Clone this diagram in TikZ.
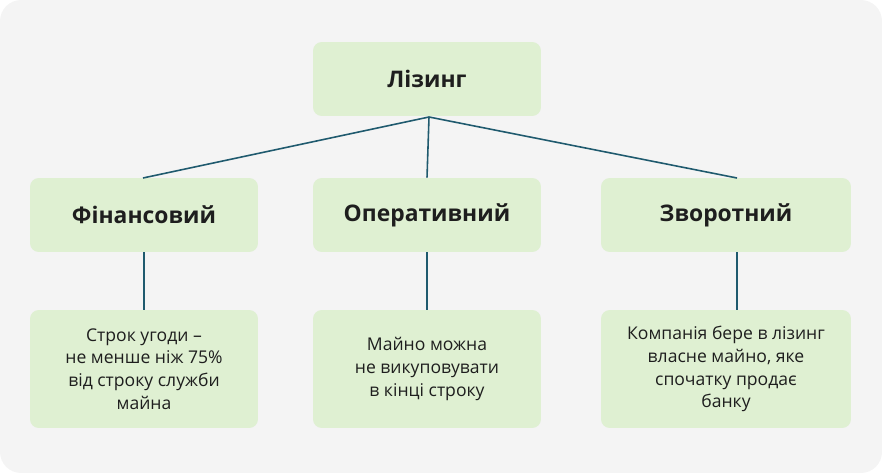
\documentclass[tikz,border=0pt]{standalone}
\usepackage{fontspec}
\setmainfont{Open Sans}
\usetikzlibrary{positioning}
\definecolor{bgcol}{HTML}{F4F4F4}
\definecolor{boxcol}{HTML}{DFF0D2}
\definecolor{linecol}{HTML}{1F5A6E}
\definecolor{txtcol}{HTML}{1E1E1E}
\begin{document}
\begin{tikzpicture}[
  x=0.02cm, y=-0.02cm,
  head/.style={rectangle, rounded corners=5pt, fill=boxcol, text=txtcol, minimum width=4.56cm, minimum height=1.48cm, font=\bfseries\fontsize{13}{15}\selectfont},
  note/.style={rectangle, rounded corners=5pt, fill=boxcol, text=txtcol, minimum width=4.56cm, minimum height=2.36cm, align=center, font=\fontsize{10}{13}\selectfont},
  link/.style={draw=linecol, line width=0.9pt}
]
\fill[bgcol, rounded corners=12pt] (0,0) rectangle (882,473);

\node[head] (lease) at (427,79) {Лізинг};
\node[head] (fin) at (144,215) {Фінансовий};
\node[head] (oper) at (427,215) {Оперативний};
\node[head, minimum width=5cm] (back) at (726,215) {Зворотний};

\node[note] (finnote) at (144,369) {Строк угоди –\\не менше ніж 75\%\\від строку служби\\майна};
\node[note] (opernote) at (427,369) {Майно можна\\не викуповувати\\в кінці строку};
\node[note, minimum width=5cm] (backnote) at (726,369) {Компанія бере в лізинг\\власне майно, яке\\спочатку продає\\банку};

\coordinate (fork) at (429,117);
\draw[link] (fork) -- (143,178);
\draw[link] (fork) -- (oper.north);
\draw[link] (fork) -- (737,178);
\draw[link] (fin.south) -- (finnote.north);
\draw[link] (oper.south) -- (opernote.north);
\draw[link] (back.south -| 737,0) -- (backnote.north -| 737,0);
\end{tikzpicture}
\end{document}
